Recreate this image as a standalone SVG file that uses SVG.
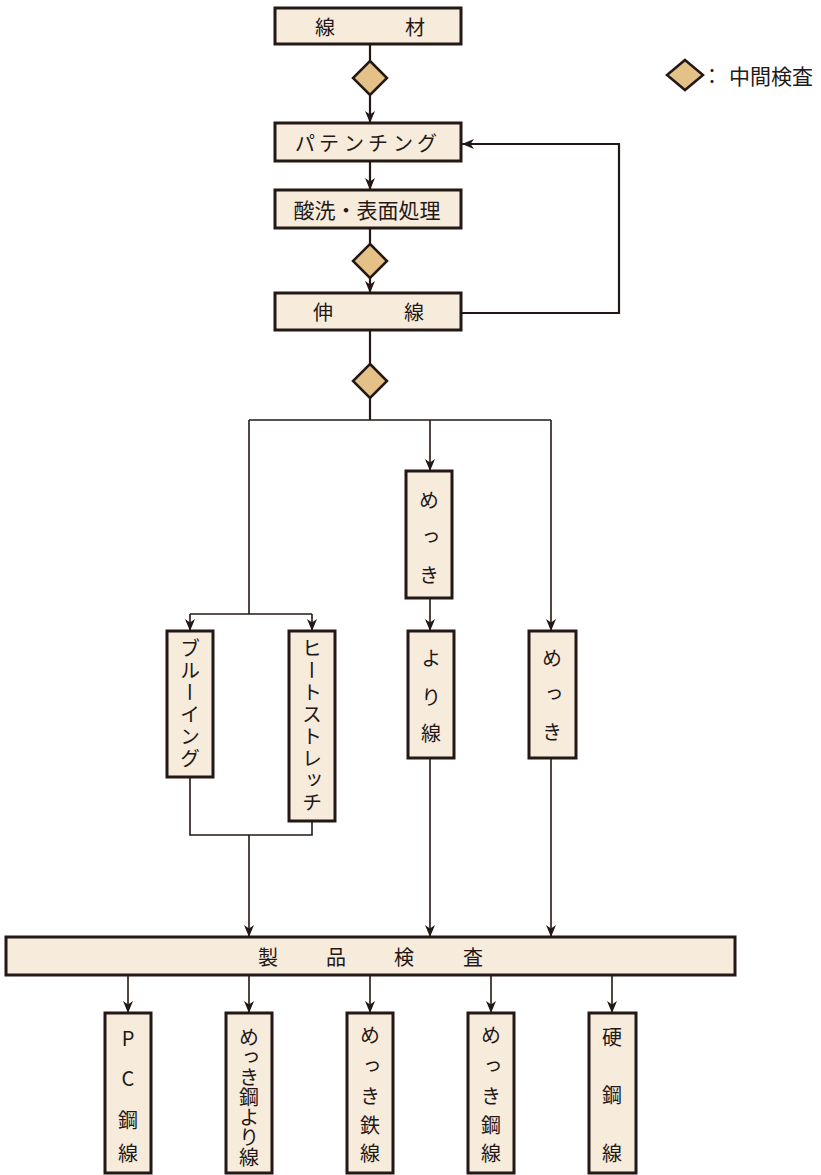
<svg xmlns="http://www.w3.org/2000/svg" width="821" height="1175" viewBox="0 0 821 1175">
<style>
.box{fill:#F7EBDC;stroke:#231815;stroke-width:3}
.dia{fill:#E4C186;stroke:#231815;stroke-width:2.5}
.t{font-family:"Noto Sans CJK JP","Noto Sans CJK SC",sans-serif;font-size:20px;fill:#231815;text-anchor:middle;dominant-baseline:central}
.v{font-family:"Noto Sans CJK JP","Noto Sans CJK SC",sans-serif;font-size:20px;fill:#231815;writing-mode:vertical-rl;text-orientation:upright}
.ln{fill:none;stroke:#231815;stroke-width:1.6}
.lnb{fill:none;stroke:#231815;stroke-width:2.2}
</style>
<defs>
<marker id="ah" viewBox="0 0 12 10" refX="12" refY="5" markerWidth="12" markerHeight="10" markerUnits="userSpaceOnUse" orient="auto">
<path d="M0,0 L12,5 L0,10 L3.5,5 z" fill="#231815"/>
</marker>
</defs>
<rect width="821" height="1175" fill="#ffffff"/>

<g id="connectors">
<path class="lnb" d="M370,44 V61"/>
<path class="lnb" d="M370,95 V123" marker-end="url(#ah)"/>
<path class="lnb" d="M370,161 V190" marker-end="url(#ah)"/>
<path class="lnb" d="M370,228 V244"/>
<path class="lnb" d="M370,278 V293" marker-end="url(#ah)"/>
<path class="lnb" d="M461,313 H619 V144 H462" marker-end="url(#ah)"/>
<path class="lnb" d="M370,330 V364"/>
<path class="lnb" d="M370,398 V420"/>
<path class="ln" d="M249,420 H551"/>
<path class="ln" d="M430,420 V471" marker-end="url(#ah)"/>
<path class="ln" d="M551,420 V631" marker-end="url(#ah)"/>
<path class="ln" d="M249,420 V614"/>
<path class="ln" d="M190,614 H312"/>
<path class="ln" d="M190,614 V631" marker-end="url(#ah)"/>
<path class="ln" d="M312,614 V631" marker-end="url(#ah)"/>
<path class="ln" d="M430,598 V631" marker-end="url(#ah)"/>
<path class="ln" d="M190,777 V835 H312 V821"/>
<path class="ln" d="M249,835 V937" marker-end="url(#ah)"/>
<path class="ln" d="M430,758 V937" marker-end="url(#ah)"/>
<path class="ln" d="M551,758 V937" marker-end="url(#ah)"/>
<path class="ln" d="M128,975 V1013" marker-end="url(#ah)"/>
<path class="ln" d="M249,975 V1013" marker-end="url(#ah)"/>
<path class="ln" d="M370,975 V1013" marker-end="url(#ah)"/>
<path class="ln" d="M491,975 V1013" marker-end="url(#ah)"/>
<path class="ln" d="M612,975 V1013" marker-end="url(#ah)"/>
</g>

<g id="n-senzai">
<rect class="box" x="275" y="8" width="186" height="36"/>
<text class="t" x="325 415" y="26">線材</text>
</g>
<g id="d-1"><path class="dia" d="M370,61 L387,78 L370,95 L353,78 Z"/></g>
<g id="n-patenting">
<rect class="box" x="275" y="123" width="186" height="38"/>
<text class="t" x="305 329 354 378 403 427" y="142">パテンチング</text>
</g>
<g id="n-sansen">
<rect class="box" x="275" y="190" width="186" height="38"/>
<text class="t" x="367" y="209" style="font-size:21px">酸洗・表面処理</text>
</g>
<g id="d-2"><path class="dia" d="M370,244 L387,261 L370,278 L353,261 Z"/></g>
<g id="n-shinsen">
<rect class="box" x="275" y="293" width="186" height="37"/>
<text class="t" x="323 414" y="311">伸線</text>
</g>
<g id="d-3"><path class="dia" d="M370,364 L387,381 L370,398 L353,381 Z"/></g>

<g id="n-mekki1">
<rect class="box" x="406" y="471" width="46" height="127"/>
<text class="v" x="429" y="490 527 565">めっき</text>
</g>
<g id="n-bluing">
<rect class="box" x="167" y="631" width="46" height="146"/>
<text class="v" x="190" y="638 660 682 704 726 748">ブルーイング</text>
</g>
<g id="n-heat">
<rect class="box" x="289" y="631" width="46" height="190"/>
<text class="v" x="312" y="638 660 682 704 726 748 770 792">ヒートストレッチ</text>
</g>
<g id="n-yorisen">
<rect class="box" x="408" y="631" width="46" height="127"/>
<text class="v" x="431" y="648 687 723">より線</text>
</g>
<g id="n-mekki2">
<rect class="box" x="529" y="631" width="47" height="127"/>
<text class="v" x="552" y="648 684 722">めっき</text>
</g>

<g id="n-seihin">
<rect class="box" x="6" y="937" width="729" height="38"/>
<text class="t" x="268 336 404 473" y="956">製品検査</text>
</g>

<g id="n-pc">
<rect class="box" x="105" y="1013" width="46" height="160"/>
<text class="v" x="128" y="1028 1068 1110 1143">PC鋼線</text>
</g>
<g id="n-mekkikouyori">
<rect class="box" x="226" y="1013" width="46" height="160"/>
<text class="v" x="249" y="1027 1047 1067 1087 1107 1127 1147">めっき鋼より線</text>
</g>
<g id="n-mekkitetsu">
<rect class="box" x="347" y="1013" width="46" height="160"/>
<text class="v" x="370" y="1025 1056 1086 1115 1143">めっき鉄線</text>
</g>
<g id="n-mekkikou">
<rect class="box" x="468" y="1013" width="46" height="160"/>
<text class="v" x="491" y="1025 1056 1086 1115 1143">めっき鋼線</text>
</g>
<g id="n-koukou">
<rect class="box" x="589" y="1013" width="47" height="160"/>
<text class="v" x="612" y="1027 1085 1143">硬鋼線</text>
</g>

<g id="legend">
<path class="dia" d="M685,60 L703,75 L685,90 L667,75 Z"/>
<text class="t" x="712" y="75">：</text>
<text class="t" x="771" y="75" style="font-size:21px">中間検査</text>
</g>
</svg>
